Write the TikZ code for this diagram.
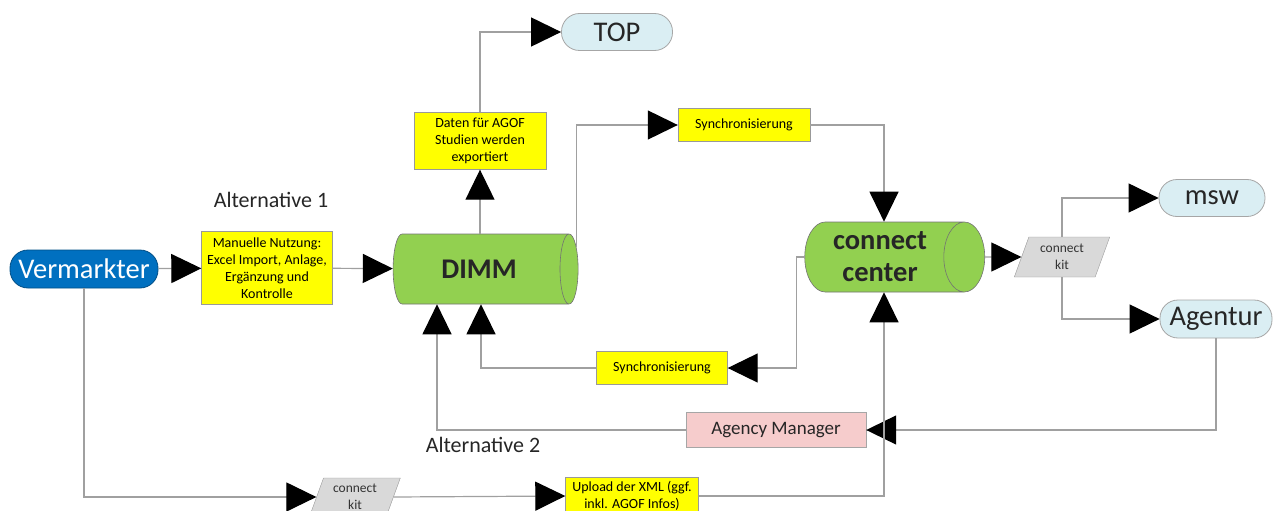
\documentclass[tikz,border=0pt]{standalone}
\usepackage{fontspec}
\setmainfont{Carlito}
\usetikzlibrary{shapes.geometric, arrows.meta, positioning, calc}
\definecolor{vblue}{RGB}{0,112,192}
\definecolor{cylgreen}{RGB}{146,208,80}
\definecolor{boxyellow}{RGB}{255,255,0}
\definecolor{pillblue}{RGB}{218,238,243}
\definecolor{agpink}{RGB}{246,204,204}
\definecolor{kitgray}{RGB}{217,217,217}
\definecolor{linegray}{RGB}{160,160,160}

\tikzset{
  conn/.style={draw=linegray, line width=1.2pt, -{Triangle[length=30pt, width=29pt, fill=black, color=black]}},
  yellowbox/.style={draw=gray!80, fill=boxyellow, align=center, inner sep=2pt,
    font=\fontsize{14}{17}\selectfont},
  pill/.style={draw=gray!70, fill=pillblue, rounded corners=18pt, line width=0.8pt,
    font=\fontsize{28.5}{30}\selectfont, text=black!85},
  db/.style={cylinder, draw=black!55, fill=cylgreen, aspect=0.72, line width=0.6pt,
    align=center, font=\fontsize{28.5}{32}\selectfont\bfseries, text=black!85},
  kit/.style={trapezium, trapezium left angle=70, trapezium right angle=110,
    draw=gray!80, fill=kitgray, align=center, inner sep=1pt,
    font=\fontsize{13.5}{17}\selectfont, text=black!80},
  alttext/.style={font=\fontsize{22}{24}\selectfont, text=black!85}
}

\begin{document}
\begin{tikzpicture}[x=1pt, y=-1pt]
  \useasboundingbox (0,0) rectangle (1277,511);
  \clip (0,0) rectangle (1277,511);
  % Sources and targets
  \node[pill, fill=vblue, draw=vblue!70!black, text=white, minimum width=148pt, minimum height=38pt] (verm) at (84,269) {Vermarkter};
  \node[pill, minimum width=111pt, minimum height=37pt] (top) at (617,32) {TOP};
  \node[pill, minimum width=106pt, minimum height=37pt] (msw) at (1212,198) {msw};
  \node[pill, minimum width=112pt, minimum height=38pt] (agent) at (1216,319) {Agentur};
  % Databases
  \node[db, minimum width=70pt, minimum height=185pt] (dimm) at (479,269) {DIMM};
  \node[db, minimum width=70pt, minimum height=180pt] (cc) at (880,257) {connect\\center};
  % Process boxes
  \node[yellowbox, minimum width=131pt, minimum height=73pt] (manu) at (267,268)
    {Manuelle Nutzung:\\Excel Import, Anlage,\\Ergänzung und\\Kontrolle};
  \node[yellowbox, minimum width=132pt, minimum height=57pt] (daten) at (480,141)
    {Daten für AGOF\\Studien werden\\exportiert};
  \node[yellowbox, minimum width=132pt, minimum height=33pt] (sync1) at (744,125) {Synchronisierung};
  \node[yellowbox, minimum width=131pt, minimum height=33pt] (sync2) at (662,368) {Synchronisierung};
  \node[yellowbox, minimum width=133pt, minimum height=38pt] (upload) at (632,496)
    {Upload der XML (ggf.\\inkl. AGOF Infos)};
  \node[draw=gray!70, fill=agpink, minimum width=180pt, minimum height=35pt,
    font=\fontsize{19}{21}\selectfont, text=black!85] (agency) at (776,430) {Agency Manager};
  \node[kit, minimum width=82pt, minimum height=40pt] (kit1) at (1062,257) {connect\\kit};
  \node[kit, minimum width=80pt, minimum height=38pt] (kit2) at (355,497) {connect\\kit};
  % Labels
  \node[alttext] (alt1) at (271,200) {Alternative 1};
  \node[alttext] (alt2) at (483,445) {Alternative 2};
  % Connectors
  \draw[conn] (verm) -- (manu);
  \draw[conn] (manu) -- (dimm);
  \draw[conn] (daten.south |- dimm.north) -- (daten.south);
  \draw[conn] (daten.north) |- (top.west);
  \draw[conn] ([xshift=-2pt, yshift=22pt]dimm.east) |- (sync1.west);
  \draw[conn] (sync1.east) -| ([xshift=4pt]cc.north);
  \draw[conn] (cc.east) -- (kit1.west);
  \draw[conn] (kit1.north) |- (msw.west);
  \draw[conn] (kit1.south) |- (agent.west);
  \draw[conn] (agent.south) |- (agency.east);
  \draw[conn] (agency.west) -| ([xshift=-42pt]dimm.south);
  \draw[conn] (cc.west) -- ++(-8,0) |- (sync2.east);
  \draw[conn] (sync2.west) -| ([xshift=2pt]dimm.south);
  \draw[conn] (verm.south) |- (kit2.west);
  \draw[conn] (kit2.east) -- (upload.west);
  \draw[conn] (upload.east) -| ([xshift=4pt]cc.south);
\end{tikzpicture}
\end{document}
